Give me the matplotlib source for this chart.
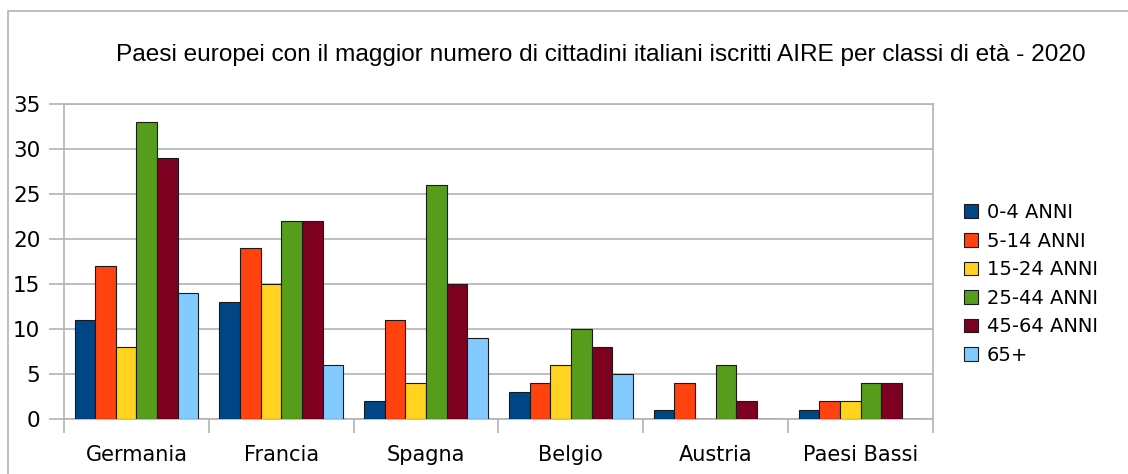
import matplotlib
matplotlib.use("Agg")
import matplotlib.pyplot as plt
import numpy as np
from matplotlib.patches import Rectangle

paesi = ["Germania", "Francia", "Spagna", "Belgio", "Austria", "Paesi Bassi"]
classi = ["0-4 ANNI", "5-14 ANNI", "15-24 ANNI", "25-44 ANNI", "45-64 ANNI", "65+"]
anni_0_4 = [11, 13, 2, 3, 1, 1]
anni_5_14 = [17, 19, 11, 4, 4, 2]
anni_15_24 = [8, 15, 4, 6, 0, 2]
anni_25_44 = [33, 22, 26, 10, 6, 4]
anni_45_64 = [29, 22, 15, 8, 2, 4]
anni_65 = [14, 6, 9, 5, 0, 0]
colori = ["#004586", "#ff420e", "#ffd320", "#579d1c", "#7e0021", "#83caff"]
titolo = "Paesi europei con il maggior numero di cittadini italiani iscritti AIRE per classi di età - 2020"

serie = [anni_0_4, anni_5_14, anni_15_24, anni_25_44, anni_45_64, anni_65]

fig = plt.figure(figsize=(11.28, 4.74), dpi=100)
ax = fig.add_axes([64 / 1128, 1 - 419 / 474, (933 - 64) / 1128, (419 - 104) / 474])

# outer frame of the chart
fig.patches.append(Rectangle((8 / 1128, -0.1), 1.2, 1 - 11 / 474 + 0.1,
                             transform=fig.transFigure, fill=False,
                             edgecolor="#b3b3b3", linewidth=1.2))

x = np.arange(len(paesi))
w = 0.1425
for i, (valori, nome) in enumerate(zip(serie, classi)):
    ax.bar(x + (i - 2.5) * w, valori, w, color=colori[i], edgecolor="#1a1a1a",
           linewidth=0.8, label=nome, zorder=3)

ax.set_xlim(-0.5, len(paesi) - 0.5)
ax.set_ylim(0, 35)
ax.set_yticks(range(0, 36, 5))
ax.set_xticks(x)
ax.set_xticklabels(paesi, fontsize=15, family="DejaVu Sans")
ax.set_xticks(np.arange(-0.5, len(paesi)), minor=True)
ax.tick_params(axis="x", which="major", length=0, pad=19)
ax.tick_params(axis="x", which="minor", length=10, color="#b3b3b3", width=1.2)
ax.tick_params(axis="y", length=11, color="#b3b3b3", width=1.2, labelsize=15.5, pad=6)
ax.grid(axis="y", color="#b3b3b3", linewidth=1.2, zorder=0)
for s in ax.spines.values():
    s.set_color("#b3b3b3")
    s.set_linewidth(1.2)

fig.text(601 / 1128, 1 - 55 / 474, titolo, ha="center", va="center",
         fontsize=17.6, family="Liberation Sans")

ax.legend(loc="center left", bbox_to_anchor=(956 / 1128, 1 - 284 / 474),
          bbox_transform=fig.transFigure, frameon=False, fontsize=14,
          handlelength=0.72, handleheight=0.72, handletextpad=0.45,
          labelspacing=0.49, borderaxespad=0)

fig.savefig("out.png", dpi=100)
